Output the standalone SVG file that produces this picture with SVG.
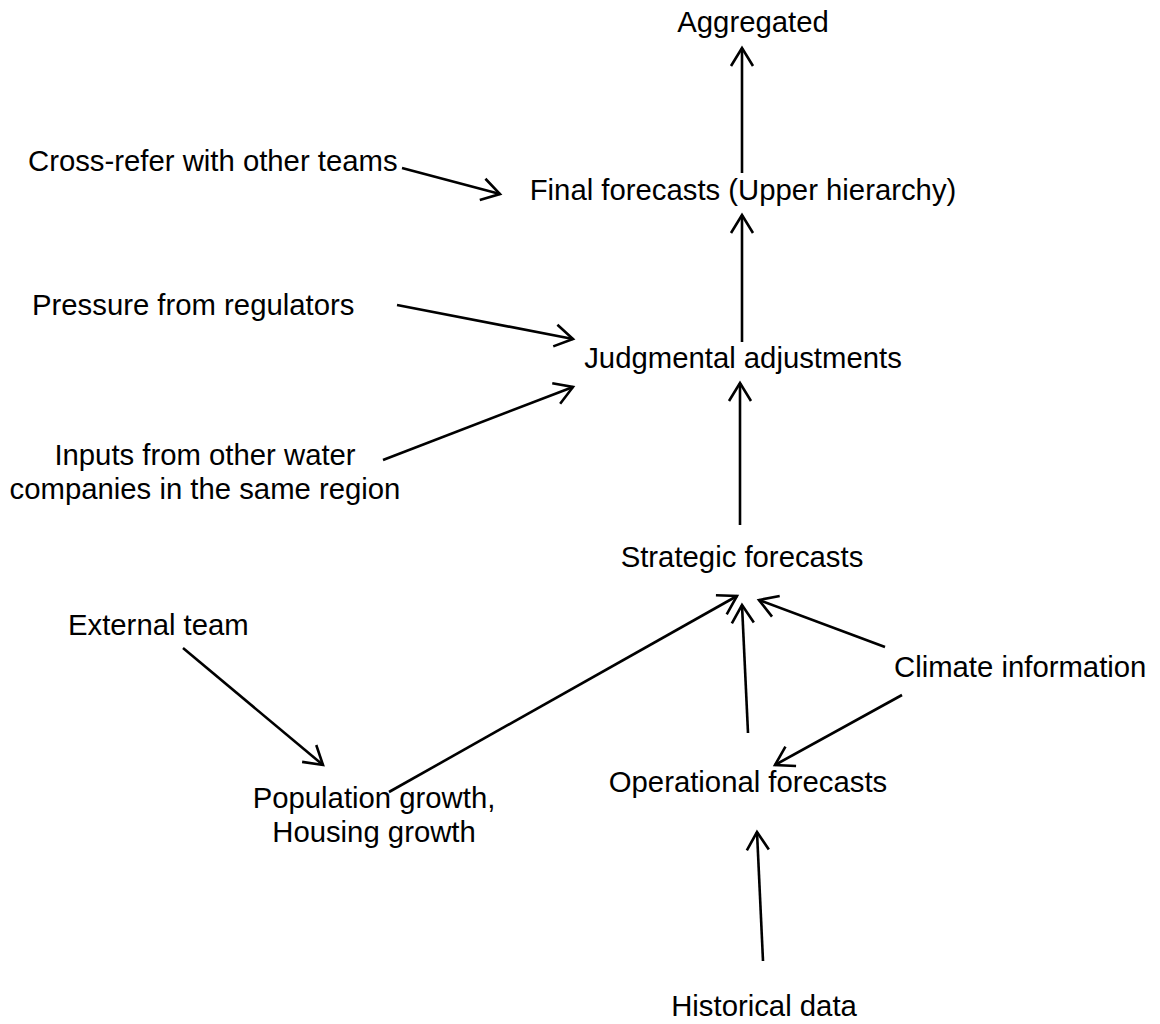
<svg xmlns="http://www.w3.org/2000/svg" width="1160" height="1024" viewBox="0 0 1160 1024">
  <style>
    .lbl { font-family: "Liberation Sans", Arial, sans-serif; font-size: 29.3px; fill: #000; }
    .mid { text-anchor: middle; }
    .edge { stroke: #000; stroke-width: 2.6; fill: none; marker-end: url(#open); }
  </style>
  <defs>
    <!-- open V arrowhead, tip at the line end -->
    <marker id="open" markerUnits="userSpaceOnUse" markerWidth="32" markerHeight="32" viewBox="-22 -16 32 32" refX="0" refY="0" orient="auto">
      <path d="M-18,-11 L0,0 L-18,11" fill="none" stroke="#000" stroke-width="2.6"/>
    </marker>
  </defs>
  <rect width="1160" height="1024" fill="#fff"/>

  <g id="connectors">
    <line class="edge" x1="742" y1="173" x2="742" y2="48"/>
    <line class="edge" x1="402" y1="168" x2="500" y2="194"/>
    <line class="edge" x1="742" y1="342" x2="742" y2="215"/>
    <line class="edge" x1="397" y1="305" x2="573" y2="339"/>
    <line class="edge" x1="383" y1="460" x2="573" y2="387"/>
    <line class="edge" x1="740" y1="525" x2="740" y2="383"/>
    <line class="edge" x1="183" y1="648" x2="323" y2="765"/>
    <line class="edge" x1="389" y1="792" x2="737" y2="596"/>
    <line class="edge" x1="748" y1="733" x2="742" y2="605"/>
    <line class="edge" x1="885" y1="647" x2="759" y2="600"/>
    <line class="edge" x1="902" y1="695" x2="775" y2="765"/>
    <line class="edge" x1="763" y1="961" x2="757" y2="832"/>
  </g>

  <g id="aggregated"><text class="lbl mid" x="753" y="32">Aggregated</text></g>
  <g id="cross-refer"><text class="lbl" x="28" y="171">Cross-refer with other teams</text></g>
  <g id="final-forecasts"><text class="lbl mid" x="743" y="200">Final forecasts (Upper hierarchy)</text></g>
  <g id="pressure"><text class="lbl" x="32" y="315">Pressure from regulators</text></g>
  <g id="judgmental"><text class="lbl mid" x="743" y="368">Judgmental adjustments</text></g>
  <g id="inputs">
    <text class="lbl mid" x="205" y="465">Inputs from other water</text>
    <text class="lbl mid" x="205" y="499">companies in the same region</text>
  </g>
  <g id="strategic"><text class="lbl mid" x="742" y="567">Strategic forecasts</text></g>
  <g id="external"><text class="lbl" x="68" y="635">External team</text></g>
  <g id="climate"><text class="lbl" x="894" y="677">Climate information</text></g>
  <g id="population">
    <text class="lbl mid" x="374" y="808">Population growth,</text>
    <text class="lbl mid" x="374" y="842">Housing growth</text>
  </g>
  <g id="operational"><text class="lbl mid" x="748" y="792">Operational forecasts</text></g>
  <g id="historical"><text class="lbl mid" x="764" y="1016">Historical data</text></g>
</svg>
